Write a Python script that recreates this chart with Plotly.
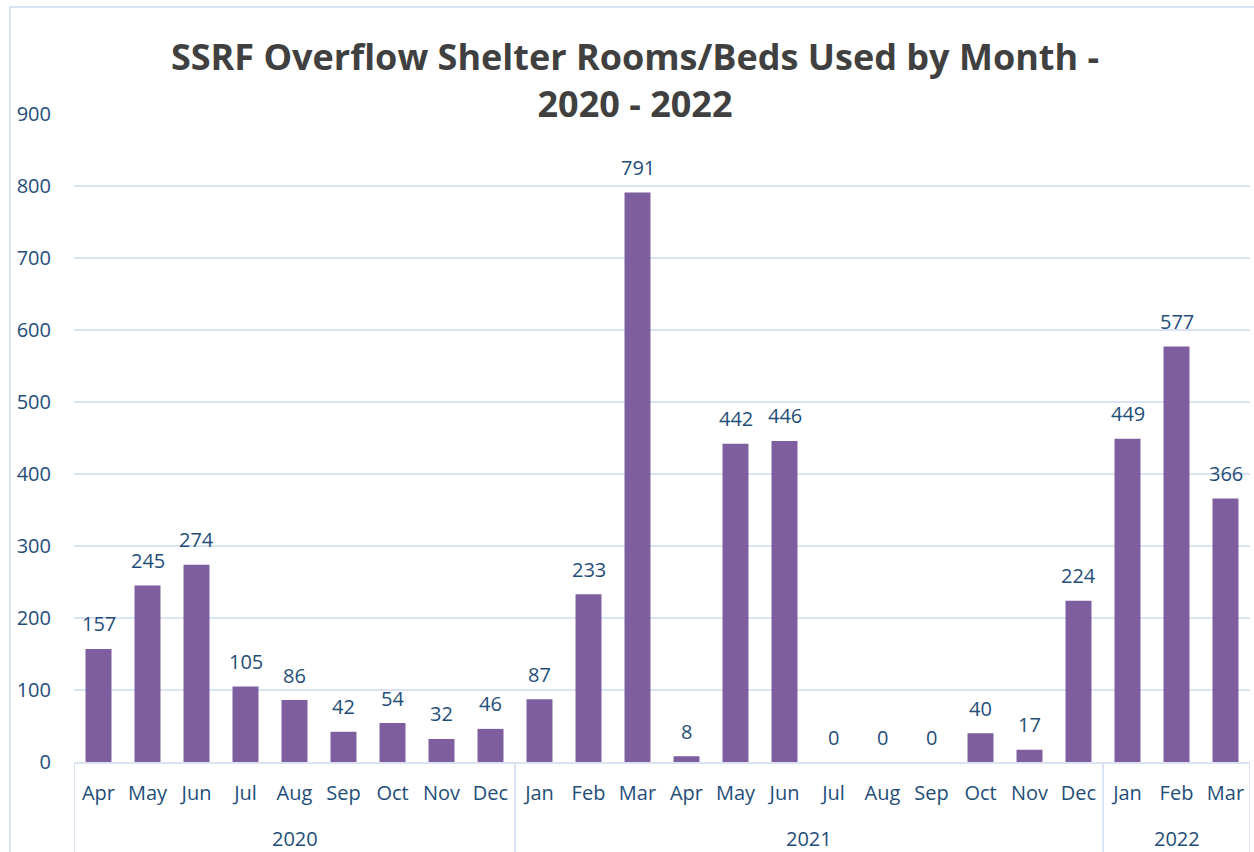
import plotly.graph_objects as go

months = ["Apr", "May", "Jun", "Jul", "Aug", "Sep", "Oct", "Nov", "Dec",
          "Jan", "Feb", "Mar", "Apr", "May", "Jun", "Jul", "Aug", "Sep", "Oct", "Nov", "Dec",
          "Jan", "Feb", "Mar"]
values = [157, 245, 274, 105, 86, 42, 54, 32, 46,
          87, 233, 791, 8, 442, 446, 0, 0, 0, 40, 17, 224,
          449, 577, 366]
year_labels = ["2020", "2021", "2022"]
year_counts = [9, 12, 3]
y_ticks = [0, 100, 200, 300, 400, 500, 600, 700, 800, 900]

label_color = "#1f4e79"
grid_color = "#d9e3f3"
font_family = "Open Sans, Liberation Sans, sans-serif"

W, H = 1254, 852
ML, MR, MT, MB = 74, 4, 114, 90
plot_h = H - MT - MB

positions = list(range(len(months)))

fig = go.Figure()
fig.add_trace(go.Bar(
    x=positions,
    y=values,
    marker=dict(color="#7e5e9e", line=dict(width=0)),
    cliponaxis=False,
    width=0.53,
    hoverinfo="x+y",
))

shapes = []
annotations = []
# data labels
for p, v in zip(positions, values):
    annotations.append(dict(
        x=p, xref="x", y=v, yref="y", text=str(v), showarrow=False,
        xanchor="center", yanchor="middle", yshift=25,
        font=dict(size=20, color=label_color, family=font_family)))
# group dividers and year labels
start = 0
bounds = [-0.5]
for lab, cnt in zip(year_labels, year_counts):
    end = start + cnt
    bounds.append(end - 0.5)
    annotations.append(dict(
        x=(start + end - 1) / 2, xref="x", y=-(838 - (H - MB)) / plot_h, yref="paper",
        text=lab, showarrow=False, xanchor="center", yanchor="middle",
        font=dict(size=20, color=label_color, family=font_family)))
    start = end
for b in bounds:
    shapes.append(dict(type="line", xref="x", yref="paper", x0=b, x1=b,
                       y0=0, y1=-(MB + 2) / plot_h,
                       line=dict(color=grid_color, width=2), layer="below"))
# outer chart border
shapes.append(dict(type="rect", xref="paper", yref="paper",
                   x0=-(ML - 10) / (W - ML - MR), x1=1.05,
                   y0=-0.3, y1=(H - 7 - MB) / plot_h,
                   line=dict(color=grid_color, width=2), fillcolor="rgba(0,0,0,0)", layer="below"))

fig.update_layout(
    width=W, height=H,
    margin=dict(l=ML, r=MR, t=MT, b=MB, autoexpand=False),
    paper_bgcolor="white", plot_bgcolor="white",
    showlegend=False,
    title=dict(
        text="<b>SSRF Overflow Shelter Rooms/Beds Used by Month -<br>2020 - 2022</b>",
        x=635 / W, xanchor="center", xref="container",
        y=1 - 70 / H, yanchor="middle", yref="container",
        font=dict(size=36, color="#404040", family=font_family),
    ),
    font=dict(family=font_family, color=label_color, size=20),
    xaxis=dict(
        range=[-0.5, len(months) - 0.5],
        tickvals=positions, ticktext=months,
        showline=True, linecolor=grid_color, linewidth=2,
        showgrid=False, zeroline=False, ticks="",
        ticklabelstandoff=12,
        tickfont=dict(size=20, color=label_color),
        automargin=False,
    ),
    yaxis=dict(
        range=[0, 900], tickvals=y_ticks,
        showgrid=True, gridcolor=grid_color, gridwidth=2,
        showline=False, zeroline=False, ticks="",
        ticklabelstandoff=22,
        tickfont=dict(size=20, color=label_color),
        automargin=False,
    ),
    shapes=shapes,
    annotations=annotations,
)

fig.write_html("out.html", config={"displayModeBar": False},
               post_script="document.body.style.margin='0';document.body.style.overflow='hidden';")
